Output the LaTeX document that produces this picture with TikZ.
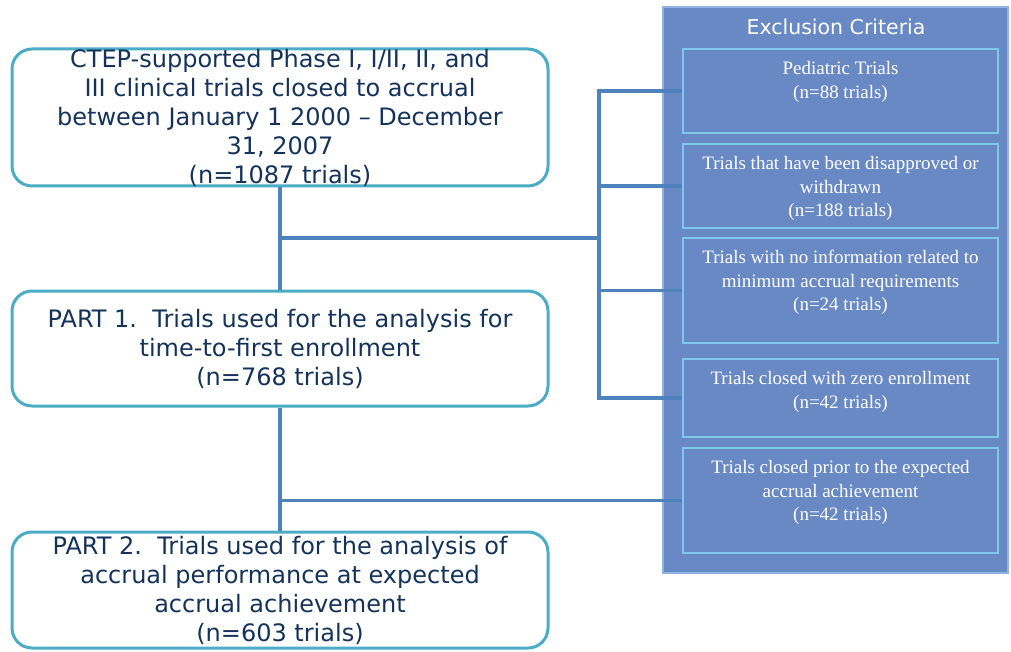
\documentclass[tikz,border=0pt]{standalone}
\usepackage{fontspec}
\setmainfont{Liberation Serif}
\newfontfamily\verd{DejaVu Sans}
\usetikzlibrary{positioning}

\definecolor{boxline}{RGB}{75,172,198}
\definecolor{navytext}{RGB}{20,50,90}
\definecolor{linkblue}{RGB}{79,129,189}
\definecolor{panelfill}{RGB}{105,137,197}
\definecolor{panelline}{RGB}{141,180,226}
\definecolor{critline}{RGB}{125,200,235}

\begin{document}
\begin{tikzpicture}[x=1pt,y=-1pt,
 part node/.style={draw=boxline,line width=3pt,rounded corners=20pt,
   minimum width=536pt,inner sep=0pt},
 part text/.style={text=navytext,font=\verd\fontsize{24}{29}\selectfont,
   align=center,inner sep=0pt},
 crit node/.style={draw=critline,line width=1.5pt,fill=panelfill,
   minimum width=315pt,inner sep=0pt},
 crit text/.style={text=white,font=\fontsize{19}{23.5}\selectfont,
   align=center,inner sep=0pt},
 link/.style={draw=linkblue,line width=3.2pt}]
\useasboundingbox (0,0) rectangle (1011,652);

% exclusion panel
\node[draw=panelline,line width=1.5pt,fill=panelfill,minimum width=345pt,
  minimum height=566pt,inner sep=0pt](panel) at (835.5,290){};
\node[text=white,font=\verd\fontsize{20.5}{24}\selectfont](title) at (836,27){Exclusion Criteria};
\foreach \n/\y/\h/\txt in {c1/91/84/{Pediatric Trials\\(n=88 trials)},
    c2/186/84/{Trials that have been disapproved or\\withdrawn\\(n=188 trials)},
    c3/290.5/105/{Trials with no information related to\\minimum accrual requirements\\(n=24 trials)},
    c4/398/78/{Trials closed with zero enrollment\\(n=42 trials)},
    c5/500.5/105/{Trials closed prior to the expected\\accrual achievement\\(n=42 trials)}}{
  \node[crit node,minimum height=\h pt](\n) at (840.5,\y){};
  \node[crit text,below=13pt of \n.north](\n-text){\txt};}

% trial boxes
\node[part node,minimum height=137pt](start) at (280,117.5){};
\node[part text](start-text) at (start){CTEP-supported Phase I, I/II, II, and\\
  III clinical trials closed to accrual\\between January 1 2000 – December\\
  31, 2007\\(n=1087 trials)};
\node[part node,minimum height=115pt](part1) at (280,348.5){};
\node[part text](part1-text) at (part1){PART 1.\ \ Trials used for the analysis for\\
  time-to-first enrollment\\(n=768 trials)};
\node[part node,minimum height=116pt](part2) at (280,590){};
\node[part text](part2-text) at (part2){PART 2.\ \ Trials used for the analysis of\\
  accrual performance at expected\\accrual achievement\\(n=603 trials)};

% connectors
\coordinate (split) at (599,238);
\draw[link] (start.south) -- (part1.north);
\draw[link] (start.south |- split) -- (split);
\foreach \n in {c1,c2,c3,c4}
  \draw[link] (split) |- (\n.west);
\draw[link] (part1.south) -- (part2.north);
\draw[link] (part1.south |- c5.west) -- (c5.west);
\end{tikzpicture}
\end{document}
